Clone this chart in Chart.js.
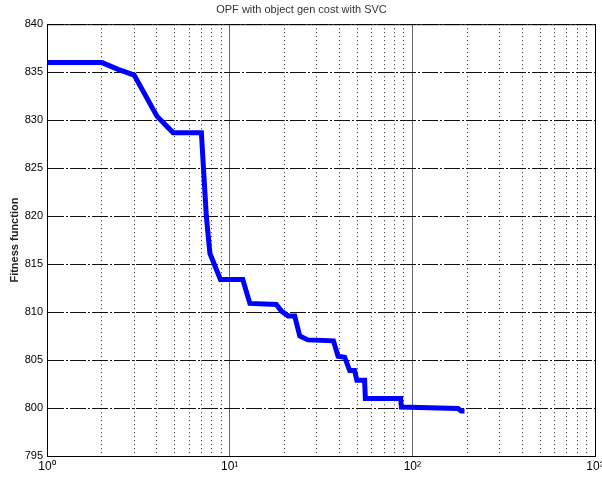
<!DOCTYPE html>
<html>
<head>
    <script src="https://cdn.jsdelivr.net/npm/chart.js@4.4.0/dist/chart.umd.min.js"></script>
    <style>
        html, body { margin: 0; padding: 0; background: white; }
        #wrap { width: 602px; height: 483px; }
    </style>
</head>
<body>
    <div id="wrap"><canvas id="fit"></canvas></div>

    <script>
        // iteration (log x) vs best fitness
        const iterations = [1, 2, 2.45, 3, 4, 4.9, 7.0, 7.45, 7.8, 8.9, 11.8, 12.9, 18.0, 19.2, 20.9, 22.7,
            24.2, 26.8, 37, 39.2, 42.6, 45.4, 48.3, 49.7, 54.8, 55.3, 86.3, 87.1, 178, 185, 193];
        const fitness = [836.0, 836.0, 835.3, 834.7, 830.4, 828.7, 828.7, 820.0, 816.1, 813.4, 813.4, 810.9, 810.8, 810.1, 809.6, 809.6,
            807.5, 807.1, 807.0, 805.4, 805.3, 803.9, 803.9, 802.9, 802.9, 801.0, 801.0, 800.1, 799.95, 799.7, 799.7];
        const yTicks = [795, 800, 805, 810, 815, 820, 825, 830, 835, 840];
        const supers = ['\u2070', '\u00b9', '\u00b2', '\u00b3'];

        const isDecade = v => Math.abs(Math.log10(v) - Math.round(Math.log10(v))) < 1e-9;

        // full box round the plot, like matlab
        const boxPlugin = {
            id: 'box',
            afterDraw(chart) {
                const { ctx, chartArea: a } = chart;
                ctx.save();
                ctx.strokeStyle = '#000';
                ctx.lineWidth = 1;
                ctx.strokeRect(a.left + 0.5, a.top + 0.5, a.right - a.left, a.bottom - a.top);
                ctx.restore();
            }
        };

        new Chart(document.getElementById('fit'), {
            type: 'scatter',
            data: {
                datasets: [{
                    data: iterations.map((x, i) => ({ x, y: fitness[i] })),
                    showLine: true,
                    borderColor: '#0000ff',
                    borderWidth: 5,
                    pointRadius: 0,
                    tension: 0
                }]
            },
            options: {
                animation: false,
                responsive: true,
                maintainAspectRatio: false,
                layout: { padding: { left: 8, right: 7, top: 0, bottom: 0 } },
                plugins: {
                    legend: { display: false },
                    tooltip: { enabled: false },
                    title: {
                        display: true,
                        text: 'OPF with object gen cost with SVC',
                        color: '#333',
                        font: { family: 'Liberation Sans', size: 11, weight: 'normal' },
                        padding: { top: 3, bottom: 8 }
                    }
                },
                scales: {
                    x: {
                        type: 'logarithmic',
                        min: 1,
                        max: 1000,
                        afterBuildTicks(scale) {
                            const t = [];
                            for (let d = 1; d < 1000; d *= 10) {
                                for (let k = 1; k < 10; k++) t.push({ value: k * d });
                            }
                            t.push({ value: 1000 });
                            scale.ticks = t;
                        },
                        afterFit(scale) {
                            scale.height = 27;
                            scale.paddingRight = 0; // let the 10^3 label hang over the edge
                        },
                        ticks: {
                            autoSkip: false,
                            maxRotation: 0,
                            color: '#000',
                            padding: 3,
                            font: { family: 'Liberation Sans', size: 12 },
                            callback(v) {
                                if (!isDecade(v)) return '';
                                return '10' + supers[Math.round(Math.log10(v))];
                            }
                        },
                        grid: {
                            drawTicks: false,
                            color: ctx => ctx.tick && isDecade(ctx.tick.value) ? '#666' : '#222',
                            lineWidth: 1
                        },
                        border: {
                            color: '#000',
                            dash: ctx => ctx.type === 'tick' && !isDecade(ctx.tick.value) ? [1, 3] : []
                        }
                    },
                    y: {
                        min: 795,
                        max: 840,
                        afterBuildTicks(scale) {
                            scale.ticks = yTicks.map(value => ({ value }));
                        },
                        afterFit(scale) { scale.width = 39; },
                        title: {
                            display: true,
                            text: 'Fitness function',
                            color: '#222',
                            font: { family: 'Liberation Sans', size: 11, weight: 'bold' },
                            padding: { top: 0, bottom: 2 }
                        },
                        ticks: {
                            color: '#000',
                            padding: 4,
                            font: { family: 'Liberation Sans', size: 11 }
                        },
                        grid: {
                            drawTicks: false,
                            color: '#111',
                            lineWidth: 1
                        },
                        border: {
                            color: '#000',
                            dash: ctx => ctx.type === 'tick' ? [16, 2, 2, 2] : []
                        }
                    }
                }
            },
            plugins: [boxPlugin]
        });
    </script>
</body>
</html>
